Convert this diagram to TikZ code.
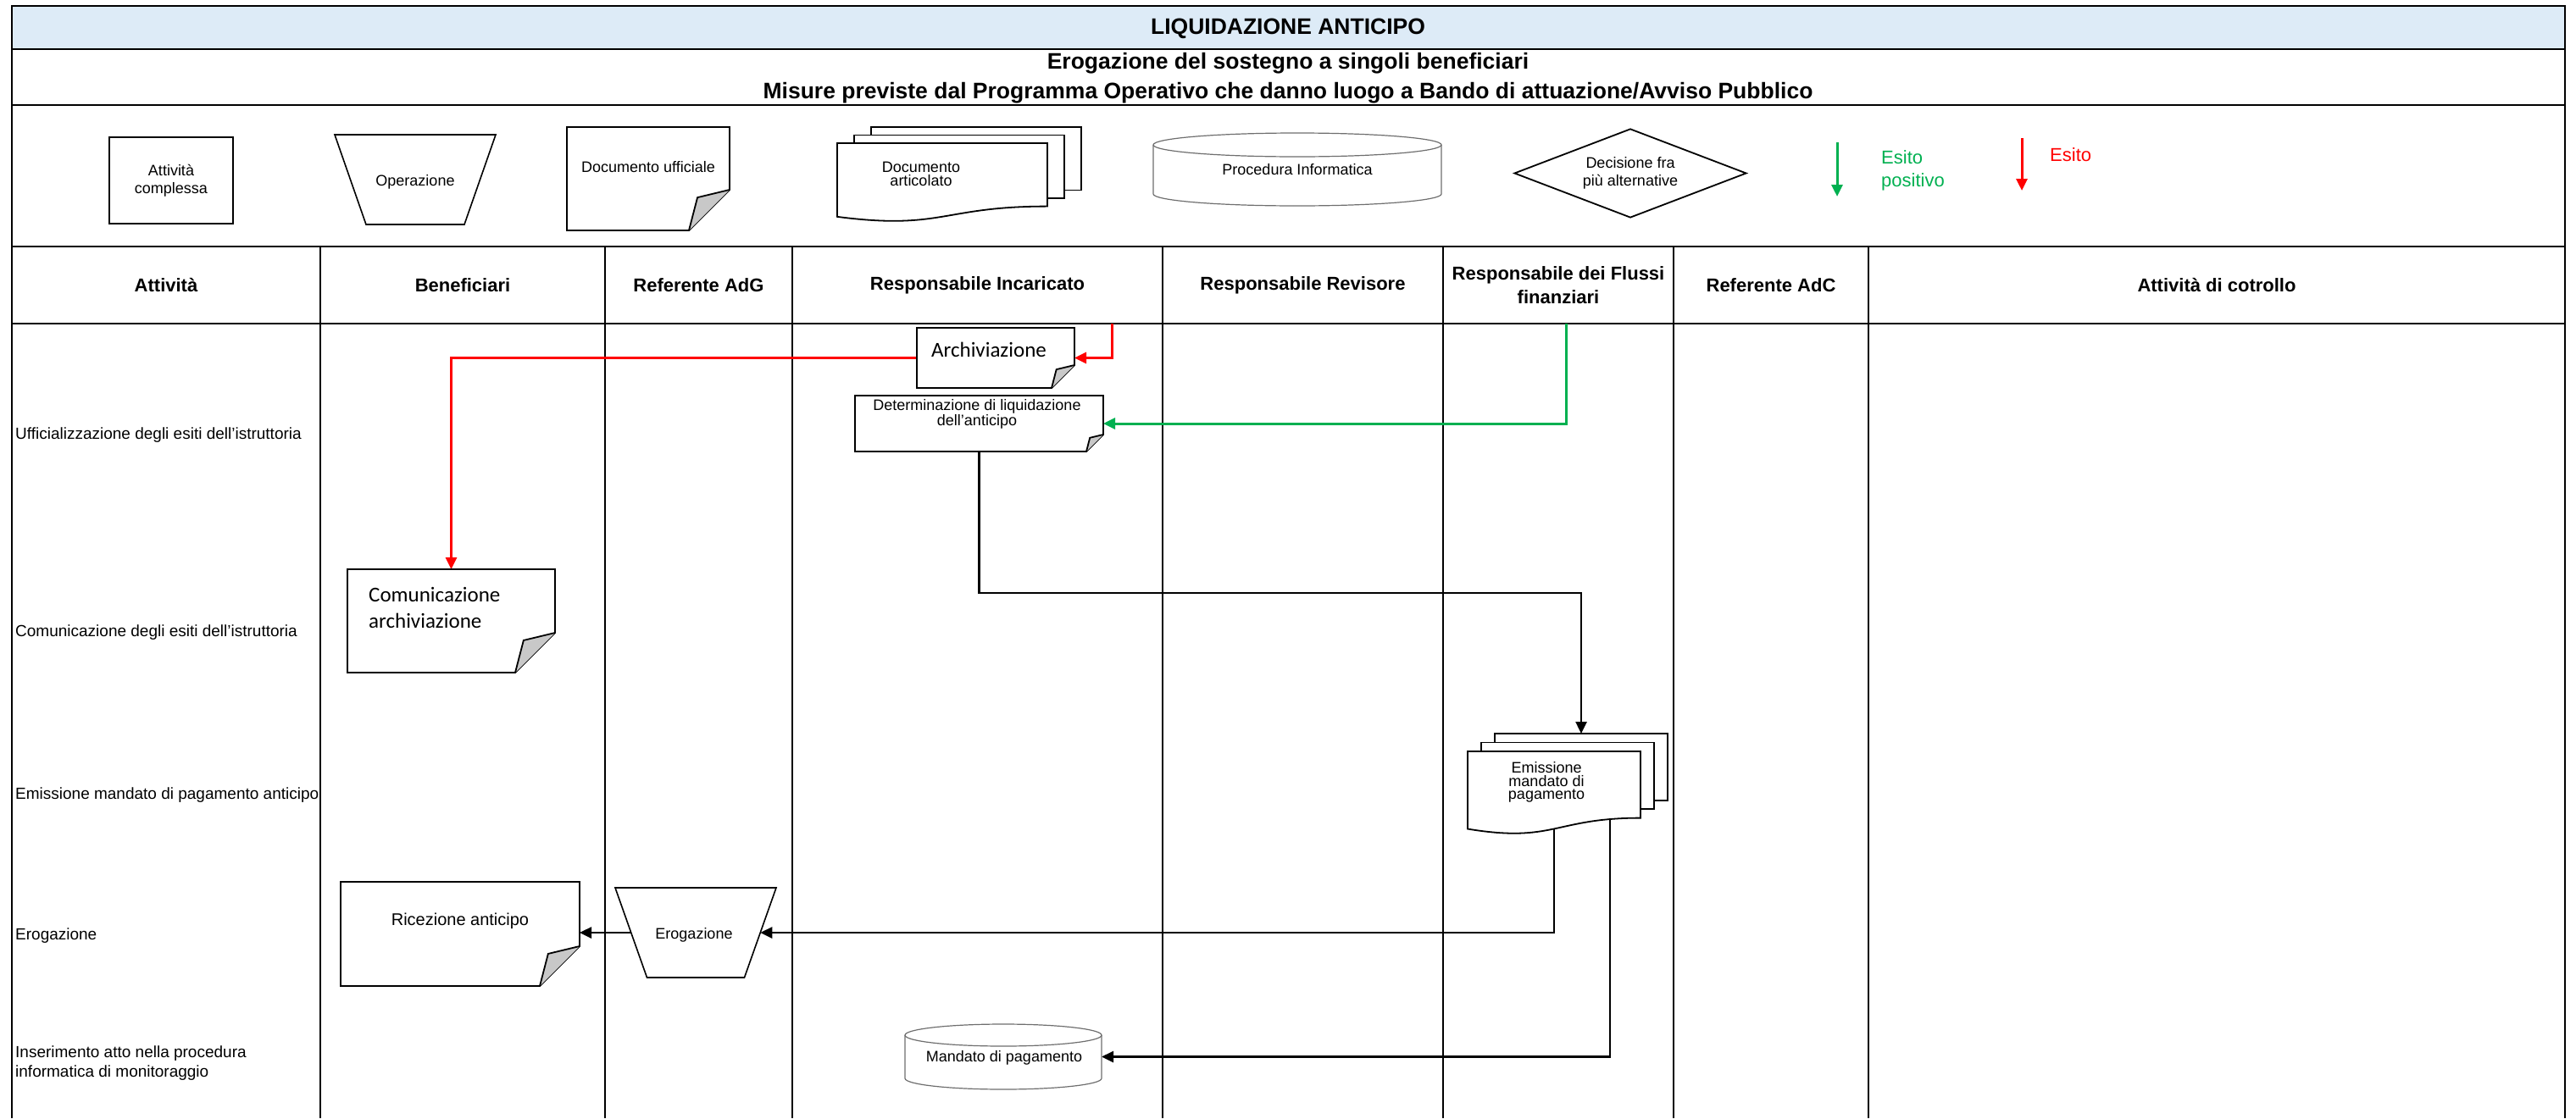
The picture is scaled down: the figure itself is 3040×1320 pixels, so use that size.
\documentclass[tikz,border=0pt]{standalone}
\usepackage{fontspec}
\setmainfont{Liberation Sans}
\newfontfamily\calibfont{Carlito}
\usetikzlibrary{arrows.meta, calc, shapes.geometric}
\definecolor{titleblue}{RGB}{221,235,247}
\definecolor{esitogreen}{RGB}{0,176,80}
\definecolor{esitored}{RGB}{255,0,0}
\definecolor{flapgray}{RGB}{200,200,200}
\definecolor{dbgray}{RGB}{110,110,110}

\tikzset{
  framerule/.style={line width=2.2pt},
  colrule/.style={line width=1.6pt},
  shapebox/.style={inner sep=0pt, outer sep=0pt},
  docline/.style={line width=1.8pt},
  dbline/.style={line width=1.2pt, draw=dbgray},
  flowline/.style={line width=2.6pt, -{Triangle[length=14pt,width=13pt]}},
  redline/.style={flowline, line width=3pt, draw=esitored},
  greenline/.style={flowline, line width=3pt, draw=esitogreen},
  titletxt/.style={inner sep=0pt, align=center, font=\bfseries\fontsize{26.5}{36}\selectfont},
  headtxt/.style={inner sep=0pt, align=center, font=\bfseries\fontsize{22}{28}\selectfont},
  rowtxt/.style={inner sep=0pt, anchor=west, align=left, font=\fontsize{19}{23}\selectfont},
  smalltxt/.style={inner sep=0pt, align=center, font=\fontsize{18}{21}\selectfont},
  caltxt/.style={inner sep=0pt, anchor=west, align=left, font=\calibfont\fontsize{25}{31}\selectfont},
  esitotxt/.style={inner sep=0pt, anchor=west, align=left, font=\fontsize{22}{27}\selectfont}
}

% document with folded corner: node, fold size
\newcommand{\docfold}[2]{%
  \draw[docline, fill=white] (#1.north west) -- (#1.north east)
    -- ($(#1.south east)+(0,-#2)$) -- ($(#1.south east)+(-#2,0)$)
    -- (#1.south west) -- cycle;
  \filldraw[docline, fill=flapgray] ($(#1.south east)+(0,-#2)$)
    -- ($(#1.south east)+(-0.79*#2,-0.81*#2)$) -- ($(#1.south east)+(-#2,0)$);
}
% stack of documents: front node, x step, y step
\newcommand{\docstack}[3]{%
  \draw[docline, fill=white] ($(#1.north west)+(2*#2,-2*#3)$)
    rectangle ($(#1.north east)!0.802!(#1.south east)+(2*#2,-2*#3)$);
  \draw[docline, fill=white] ($(#1.north west)+(#2,-#3)$)
    rectangle ($(#1.north east)!0.802!(#1.south east)+(#2,-#3)$);
  \draw[docline, fill=white] (#1.north west) -- (#1.north east)
    -- ($(#1.north east)!0.802!(#1.south east)$)
    .. controls ($(#1.north)!0.802!(#1.south)$) and ($(#1.north)!1.107!(#1.south)$)
    .. ($(#1.north west)!0.934!(#1.south west)$) -- cycle;
}
% database can: node, x radius, y radius
\newcommand{\docdb}[3]{%
  \draw[dbline, fill=white] ($(#1.north west)+(0,#3)$) -- ($(#1.south west)+(0,-#3)$)
    arc[start angle=180, end angle=360, x radius=#2pt, y radius=#3pt]
    -- ($(#1.north east)+(0,#3)$)
    arc[start angle=0, end angle=180, x radius=#2pt, y radius=#3pt] -- cycle;
  \draw[dbline] ($(#1.north west)+(0,#3)$)
    arc[start angle=180, end angle=360, x radius=#2pt, y radius=#3pt];
}
% operation trapezium: node, side inset
\newcommand{\doctrap}[2]{%
  \draw[docline, line width=1.6pt, fill=white] ($(#1.north west)+(-#2,0)$) -- ($(#1.north east)+(#2,0)$)
    -- ($(#1.south east)+(-#2,0)$) -- ($(#1.south west)+(#2,0)$) -- cycle;
}

\begin{document}
\begin{tikzpicture}[x=1pt, y=-1pt]
  \useasboundingbox (0,0) rectangle (3040,1320);

  % frame and lanes
  \fill[titleblue] (14,7) rectangle (3027,58);
  \draw[framerule] (14,1320) -- (14,7) -- (3027,7) -- (3027,1320);
  \draw[framerule] (14,58) -- (3027,58) (14,124) -- (3027,124)
    (14,291) -- (3027,291) (14,382) -- (3027,382);
  \draw[colrule] (378,291) -- (378,1320) (714,291) -- (714,1320)
    (935,291) -- (935,1320) (1372,291) -- (1372,1320)
    (1703,291) -- (1703,1320) (1975,291) -- (1975,1320)
    (2205,291) -- (2205,1320);

  \node[titletxt] (title) at (1520,34) {LIQUIDAZIONE ANTICIPO};
  \node[titletxt, font=\bfseries\fontsize{26.5}{35}\selectfont] (subtitle) at (1520,92) {Erogazione del sostegno a singoli beneficiari\\
    Misure previste dal Programma Operativo che danno luogo a Bando di attuazione/Avviso Pubblico};

  \node[headtxt] (h-att) at (196,337) {Attività};
  \node[headtxt] (h-ben) at (546,337) {Beneficiari};
  \node[headtxt] (h-adg) at (824.5,337) {Referente AdG};
  \node[headtxt] (h-inc) at (1153.5,337) {Responsabile Incaricato};
  \node[headtxt] (h-rev) at (1537.5,337) {Responsabile Revisore};
  \node[headtxt] (h-flu) at (1839,337) {Responsabile dei Flussi\\finanziari};
  \node[headtxt] (h-adc) at (2090,337) {Referente AdC};
  \node[headtxt] (h-ctr) at (2616,337) {Attività di cotrollo};

  \node[rowtxt] (r-uff) at (18,514) {Ufficializzazione degli esiti dell'istruttoria};
  \node[rowtxt] (r-com) at (18,747) {Comunicazione degli esiti dell'istruttoria};
  \node[rowtxt] (r-emi) at (18,939) {Emissione mandato di pagamento anticipo};
  \node[rowtxt] (r-ero) at (18,1105) {Erogazione};
  \node[rowtxt] (r-ins) at (18,1255) {Inserimento atto nella procedura\\informatica di monitoraggio};

  % legend
  \node[draw, docline, smalltxt, minimum width=146, minimum height=102] (lg-act) at (202,213) {Attività\\complessa};
  \node[shapebox, minimum width=153, minimum height=106] (lg-op) at (490,212) {};
  \node[shapebox, minimum width=192, minimum height=122] (lg-doc) at (765,211) {};
  \node[shapebox, minimum width=248, minimum height=93] (lg-art) at (1112,215.5) {};
  \node[shapebox, minimum width=340, minimum height=86] (lg-db) at (1531,200) {};
  \node[diamond, draw, docline, aspect=2.6, inner sep=0pt, minimum width=274, minimum height=105] (lg-dec) at (1924,204.5) {};
  \doctrap{lg-op}{18.5}
  \docfold{lg-doc}{48}
  \docstack{lg-art}{20}{9.5}
  \docdb{lg-db}{170}{14}
  \node[smalltxt] (lg-op-t) at (490,215) {Operazione};
  \node[smalltxt] (lg-doc-t) at (765,197) {Documento ufficiale};
  \node[smalltxt, font=\fontsize{18}{16}\selectfont] (lg-art-t) at (1087,205) {Documento\\articolato};
  \node[smalltxt] (lg-db-t) at (1531,200) {Procedura Informatica};
  \node[smalltxt] (lg-dec-t) at (1924,204) {Decisione fra\\più alternative};
  \coordinate (lg-g) at (2168,168);
  \coordinate (lg-r) at (2386,163);
  \draw[greenline] (lg-g) -- ++(0,64);
  \draw[redline] (lg-r) -- ++(0,62);
  \node[esitotxt, text=esitogreen] (lg-g-t) at (2220,201.5) {Esito\\positivo};
  \node[esitotxt, text=esitored] (lg-r-t) at (2419,183) {Esito};

  % flow shapes
  \node[shapebox, minimum width=186, minimum height=71] (arch) at (1175,422.5) {};
  \node[shapebox, minimum width=293, minimum height=66] (det) at (1155.5,500) {};
  \node[shapebox, minimum width=245, minimum height=122] (com) at (532.5,733) {};
  \node[shapebox, minimum width=204, minimum height=98] (emi) at (1834,936) {};
  \node[shapebox, minimum width=282, minimum height=123] (ric) at (543,1102.5) {};
  \node[shapebox, minimum width=152.5, minimum height=106] (erog) at (821,1101) {};
  \node[shapebox, minimum width=232, minimum height=77] (mand) at (1184,1247.5) {};

  % connectors
  \coordinate (redin) at (1312,382);
  \coordinate (greenin) at (1848,382);
  \draw[redline] (redin) |- (arch.east);
  \draw[redline] (arch.west) -| (com.north);
  \draw[greenline] (greenin) |- (det.east);
  \draw[flowline] (det.south) -- ++(0,167) -| ($(emi.north)+(32,-21)$);
  \draw[flowline] (emi.center) |- (erog.east);
  \draw[flowline] ($(emi.center)+(66,0)$) |- (mand.east);
  \draw[flowline] (erog.west) -- (erog.west -| ric.east);

  \docfold{arch}{27}
  \docfold{det}{20}
  \docfold{com}{47}
  \docstack{emi}{16}{10.5}
  \docfold{ric}{47}
  \doctrap{erog}{18.75}
  \docdb{mand}{116}{13}

  \node[caltxt] (arch-t) at (1099,413) {Archiviazione};
  \node[smalltxt, font=\fontsize{18}{18}\selectfont] (det-t) at (1153,489) {Determinazione di liquidazione\\dell'anticipo};
  \node[caltxt] (com-t) at (435,717.5) {Comunicazione\\archiviazione};
  \node[smalltxt, font=\fontsize{18}{15.5}\selectfont] (emi-t) at (1825,923.5) {Emissione\\mandato di\\pagamento};
  \node[smalltxt, font=\fontsize{20}{24}\selectfont] (ric-t) at (543,1087) {Ricezione anticipo};
  \node[smalltxt] (erog-t) at (819,1104) {Erogazione};
  \node[smalltxt] (mand-t) at (1185,1249) {Mandato di pagamento};
\end{tikzpicture}
\end{document}
